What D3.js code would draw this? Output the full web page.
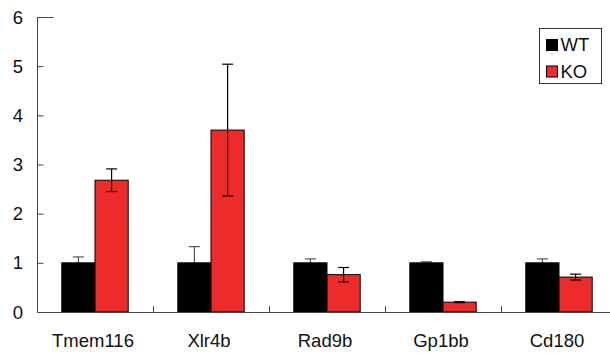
<!DOCTYPE html>
<html>
<head>
<meta charset="utf-8">
<script src="https://cdn.jsdelivr.net/npm/d3@7.9.0/dist/d3.min.js"></script>
<style>
  body { margin: 0; background: #fff; }
  svg { display: block; font-family: Arial, "Liberation Sans", sans-serif; }
</style>
</head>
<body>
<svg id="chart" width="610" height="354"></svg>
<script>
// data
const genes = ['Tmem116', 'Xlr4b', 'Rad9b', 'Gp1bb', 'Cd180'];
const series = ['WT', 'KO'];
const wtMean = [1.0, 1.0, 1.0, 1.0, 1.0];
const wtErr = [0.12, 0.33, 0.08, 0.02, 0.08];
const koMean = [2.68, 3.70, 0.76, 0.20, 0.71];
const koErr = [0.23, 1.34, 0.145, 0.01, 0.06];
const yTicks = [0, 1, 2, 3, 4, 5, 6];

const colors = { WT: '#000000', KO: '#ee2b2b' };
const errColors = { WT: '#555555', KO: '#000000' };

const svg = d3.select('#chart');

// scales
const x0 = d3.scaleBand().domain(genes).range([37, 617]).padding(0);
const x1 = d3.scaleBand().domain(series).range([0, x0.bandwidth()])
    .paddingInner(0).paddingOuter(0.747);
const y = d3.scaleLinear().domain([0, 6]).range([312, 17]);

// build rows
const rows = [];
genes.forEach((g, i) => {
    rows.push({ gene: g, s: 'WT', v: wtMean[i], e: wtErr[i] });
    rows.push({ gene: g, s: 'KO', v: koMean[i], e: koErr[i] });
});

const capW = 11;
const cx = d => x0(d.gene) + x1(d.s) + x1.bandwidth() / 2;

function drawErrors(data) {
    const eg = svg.append('g').selectAll('g')
        .data(data)
        .join('g')
        .attr('stroke', d => errColors[d.s])
        .attr('stroke-width', 1.2);
    eg.append('line')
        .attr('x1', cx).attr('x2', cx)
        .attr('y1', d => y(d.v - d.e))
        .attr('y2', d => y(d.v + d.e));
    eg.append('line')
        .attr('x1', d => cx(d) - capW / 2)
        .attr('x2', d => cx(d) + capW / 2)
        .attr('y1', d => y(d.v + d.e))
        .attr('y2', d => y(d.v + d.e));
    eg.append('line')
        .attr('x1', d => cx(d) - capW / 2)
        .attr('x2', d => cx(d) + capW / 2)
        .attr('y1', d => y(d.v - d.e))
        .attr('y2', d => y(d.v - d.e));
}

// WT error bars sit behind the black bars (only the upper half shows)
drawErrors(rows.filter(d => d.s === 'WT'));

// bars
svg.append('g').selectAll('rect')
    .data(rows)
    .join('rect')
    .attr('x', d => x0(d.gene) + x1(d.s))
    .attr('y', d => y(d.v))
    .attr('width', x1.bandwidth())
    .attr('height', d => y(0) - y(d.v))
    .attr('fill', d => colors[d.s])
    .attr('stroke', '#000')
    .attr('stroke-width', 1);

drawErrors(rows.filter(d => d.s === 'KO'));

// y axis
const yAxis = svg.append('g')
    .attr('transform', 'translate(37.5,0)')
    .call(d3.axisRight(y).tickValues(yTicks).tickSize(6).tickFormat(''));
yAxis.select('.domain').attr('d', `M0,${y(6)}V${y(0)}`).attr('stroke', '#444');
yAxis.selectAll('.tick line').attr('stroke', '#444')
    .attr('x2', d => d === 6 ? 16 : 6);

svg.append('g').selectAll('text')
    .data(yTicks)
    .join('text')
    .attr('x', 23)
    .attr('y', d => y(d))
    .attr('dy', '0.36em')
    .attr('text-anchor', 'end')
    .attr('font-size', 18.5)
    .attr('fill', '#111')
    .text(d => d);

// x axis
svg.append('line')
    .attr('x1', 37.5).attr('x2', 610)
    .attr('y1', y(0) + 0.5).attr('y2', y(0) + 0.5)
    .attr('stroke', '#444').attr('stroke-width', 1.2);
svg.append('g').selectAll('line')
    .data(genes.slice(1))
    .join('line')
    .attr('x1', d => x0(d) + 0.5)
    .attr('x2', d => x0(d) + 0.5)
    .attr('y1', y(0) - 6)
    .attr('y2', y(0))
    .attr('stroke', '#444');

svg.append('g').selectAll('text')
    .data(genes)
    .join('text')
    .attr('x', d => x0(d) + x0.bandwidth() / 2 - 2)
    .attr('y', 347)
    .attr('text-anchor', 'middle')
    .attr('font-size', 18.5)
    .attr('fill', '#111')
    .text(d => d);

// legend
const lg = svg.append('g').attr('transform', 'translate(539.5,28.5)');
lg.append('rect')
    .attr('width', 62).attr('height', 55)
    .attr('fill', '#fff').attr('stroke', '#333');
series.forEach((s, i) => {
    lg.append('rect')
        .attr('x', 7).attr('y', 11 + i * 26.5)
        .attr('width', 11).attr('height', 11)
        .attr('fill', colors[s]).attr('stroke', '#000');
    lg.append('text')
        .attr('x', 21).attr('y', 22.5 + i * 26.5)
        .attr('font-size', 18.5)
        .attr('fill', '#111')
        .text(s);
});
</script>
</body>
</html>
